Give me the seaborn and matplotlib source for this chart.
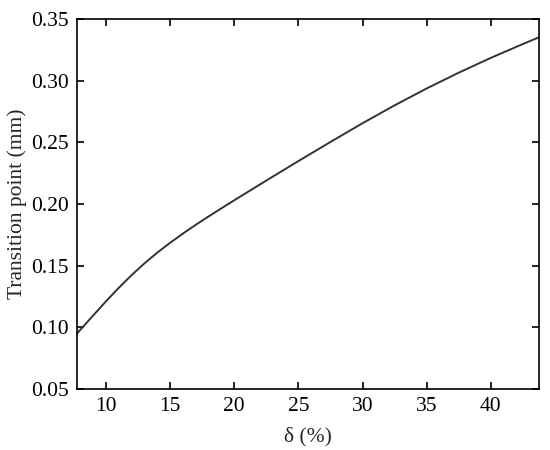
import matplotlib
matplotlib.use("Agg")
import matplotlib.pyplot as plt
import seaborn as sns
import pandas as pd

delta = [7.75, 9, 10, 11, 12, 13, 14, 15, 16, 17, 18, 19, 20, 22.5, 25, 27.5, 30,
         32.5, 35, 37.5, 40, 42, 43.75]
transition = [0.0950, 0.1095, 0.1210, 0.1320, 0.1423, 0.1518, 0.1605, 0.1685, 0.1760,
              0.1831, 0.1899, 0.1965, 0.2030, 0.2190, 0.2348, 0.2503, 0.2655,
              0.2800, 0.2937, 0.3065, 0.3185, 0.3275, 0.3352]
xticks = [10, 15, 20, 25, 30, 35, 40]
yticks = [0.05, 0.10, 0.15, 0.20, 0.25, 0.30, 0.35]

sns.set_style("ticks")
plt.rcParams['font.family'] = ['Liberation Serif', 'DejaVu Serif']

df = pd.DataFrame({"delta": delta, "tp": transition})

fig = plt.figure(figsize=(5.5, 4.5), dpi=100)
ax = fig.add_axes([77/550, 61/450, 462/550, 370/450])
sns.lineplot(data=df, x="delta", y="tp", ax=ax, color="#333333", linewidth=1.4)

ax.set_xlim(7.75, 43.75)
ax.set_ylim(0.05, 0.35)
ax.set_xticks(xticks)
ax.set_xticklabels([str(t) for t in xticks])
ax.set_yticks(yticks)
ax.set_yticklabels([f"{t:.2f}" for t in yticks])
ax.tick_params(direction="in", length=5, width=1.2, labelsize=15.5, top=True, right=True,
               colors="black", pad=6)
for s in ax.spines.values():
    s.set_visible(True)
    s.set_linewidth(1.2)
    s.set_color("black")
ax.set_xlabel("δ (%)", fontsize=15.5, labelpad=8)
ax.set_ylabel("Transition point (mm)", fontsize=15.5, labelpad=3)

fig.savefig("out.png", dpi=100)
